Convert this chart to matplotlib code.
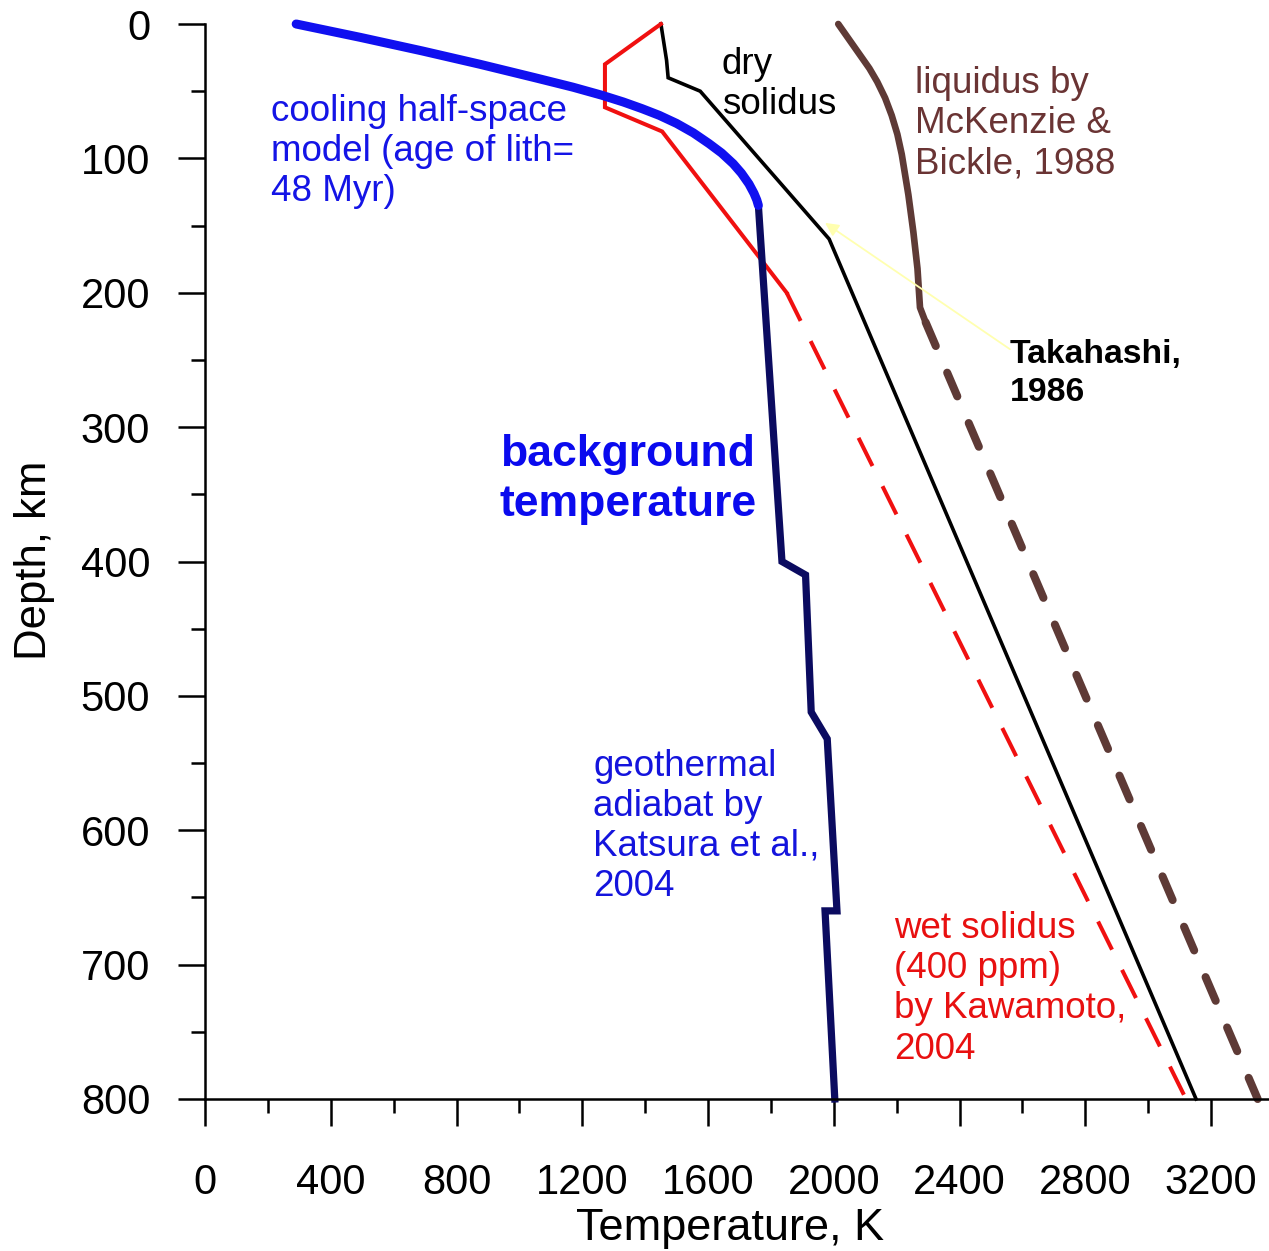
import matplotlib
matplotlib.use("Agg")
import matplotlib.pyplot as plt

plt.rcParams['font.family'] = ['Liberation Sans', 'DejaVu Sans']

# ---- data (Temperature K vs depth km) ----
cool_depth = [0, 10, 20, 30, 40, 47, 53, 58, 63, 68, 74, 81, 89, 96, 104, 111, 119, 126, 131, 135]
cool_temp = [290, 495, 690, 875, 1050, 1170, 1262, 1330, 1390, 1445, 1500, 1553, 1603, 1643,
             1680, 1706, 1730, 1746, 1755, 1760]

adiabat_depth = [135, 400, 410, 512, 532, 660, 660, 800]
adiabat_temp = [1760, 1835, 1910, 1928, 1979, 2010, 1972, 2003]

dry_depth = [0, 27, 40, 50, 160, 800]
dry_temp = [1450, 1468, 1473, 1575, 1985, 3152]

wet_depth = [0, 30, 62, 80, 200]
wet_temp = [1450, 1272, 1272, 1454, 1850]
wet_ext_depth = [200, 800]
wet_ext_temp = [1850, 3120]

liq_depth = [0, 12, 23, 33, 43, 55, 68, 82, 97, 127, 155, 182, 211, 222]
liq_temp = [2014, 2050, 2083, 2113, 2138, 2163, 2184, 2202, 2216, 2237, 2253, 2266, 2274, 2292]
liq_ext_depth = [222, 800]
liq_ext_temp = [2292, 3348]

xticks = [0, 400, 800, 1200, 1600, 2000, 2400, 2800, 3200]
yticks = [0, 100, 200, 300, 400, 500, 600, 700, 800]

W, H = 1269, 1251
fig = plt.figure(figsize=(W / 100, H / 100), dpi=100)
ax = fig.add_axes([205 / W, 1 - 1099 / H, (W - 205) / W, (1099 - 24) / H])

ax.set_xlim(0, 3384)
ax.set_ylim(800, 0)

# lines
ax.plot(liq_temp, liq_depth, color='#5e3a36', lw=4.8, solid_capstyle='round',
        solid_joinstyle='round', clip_on=False)
ax.plot(liq_ext_temp, liq_ext_depth, color='#5e3a36', lw=5.8, dashes=(3.2, 3.6),
        dash_capstyle='round', clip_on=False)
ax.plot(dry_temp, dry_depth, color='black', lw=2.6, solid_joinstyle='miter', clip_on=False)
ax.plot(wet_temp, wet_depth, color='#f01010', lw=2.9, solid_joinstyle='miter', clip_on=False)
ax.plot(wet_ext_temp, wet_ext_depth, color='#f01010', lw=2.9, dashes=(7.8, 5.6), clip_on=False)
ax.plot(adiabat_temp, adiabat_depth, color='#0b0b60', lw=5.2, solid_joinstyle='miter',
        clip_on=False)
ax.plot(cool_temp, cool_depth, color='#1010f0', lw=6.5, solid_capstyle='round',
        solid_joinstyle='round', clip_on=False)

# annotation arrow
ax.annotate('', xy=(1972, 148), xytext=(2560, 242),
            arrowprops=dict(arrowstyle='-|>', color='#ffffb0', lw=1.3,
                            mutation_scale=20, shrinkA=0, shrinkB=0))

# texts
fs = 26.5
ls = 1.19
ax.text(210, 95, 'cooling half-space\nmodel (age of lith=\n48 Myr)', color='#1414e6',
        fontsize=fs, ha='left', va='center', linespacing=ls)
ax.text(1644, 45, 'dry\nsolidus', color='black', fontsize=fs, ha='left', va='center',
        linespacing=ls)
ax.text(2258, 74, 'liquidus by\nMcKenzie &\nBickle, 1988', color='#6a3434', fontsize=fs,
        ha='left', va='center', linespacing=ls)
ax.text(2560, 260, 'Takahashi,\n1986', color='black', fontsize=24.3, fontweight='bold',
        ha='left', va='center', linespacing=1.3)
ax.text(938, 339, 'background\ntemperature', color='#0a0aee', fontsize=32,
        fontweight='bold', ha='left', va='center', linespacing=1.26)
ax.text(1235, 597, 'geothermal\nadiabat by\nKatsura et al.,\n2004', color='#1414dd',
        fontsize=fs, ha='left', va='center', linespacing=ls)
ax.text(2191, 718, 'wet solidus\n(400 ppm)\nby Kawamoto,\n2004', color='#e81010',
        fontsize=fs, ha='left', va='center', linespacing=ls)

# axes styling
for s in ['top', 'right']:
    ax.spines[s].set_visible(False)
for s in ['left', 'bottom']:
    ax.spines[s].set_linewidth(1.8)

ax.set_xticks(xticks)
ax.set_xticks(list(range(200, 3400, 400)), minor=True)
ax.set_yticks(yticks)
ax.set_yticks(list(range(50, 800, 100)), minor=True)
ax.set_xticklabels([str(v) for v in xticks])
ax.set_yticklabels([str(v) for v in yticks])
ax.tick_params(axis='both', which='major', length=19.4, width=1.8, labelsize=30, direction='out')
ax.tick_params(axis='both', which='minor', length=10, width=1.8, direction='out')
ax.tick_params(axis='x', which='major', pad=27)
ax.tick_params(axis='y', which='major', pad=20)

fig.text(730 / W, 1 - 1240 / H, 'Temperature, K', fontsize=32.5, ha='center', va='baseline')
fig.text(55 / W, 1 - 560 / H, 'Depth, km', fontsize=31.5, ha='right', va='center', rotation=90)

fig.savefig('out.png', dpi=100)
